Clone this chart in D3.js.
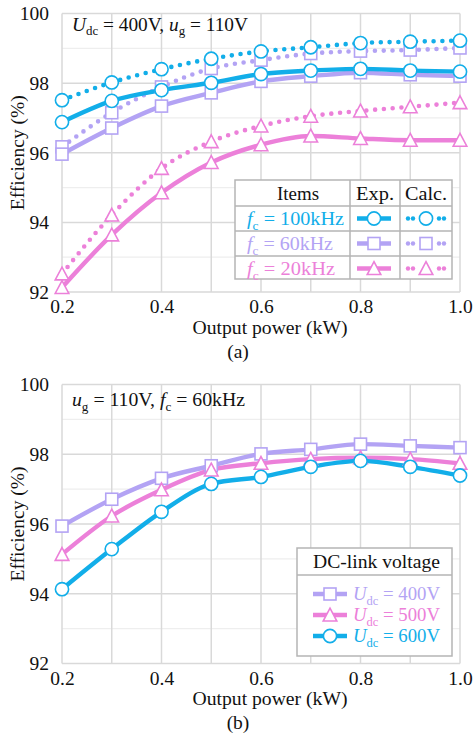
<!DOCTYPE html>
<html>
<head>
<meta charset="utf-8">
<script src="https://cdn.jsdelivr.net/npm/d3@7"></script>
<style>
  html, body { margin: 0; padding: 0; background: #fff; }
  svg, svg text { font-family: "Liberation Serif", "Tinos", "Times New Roman", "DejaVu Serif", serif; }
</style>
</head>
<body>
<svg id="chart" width="474" height="744"></svg>
<script>
// Output power (kW) on the x axis
const power = [0.2, 0.3, 0.4, 0.5, 0.6, 0.7, 0.8, 0.9, 1.0];
const xTicks = [0.2, 0.4, 0.6, 0.8, 1.0];
const yTicks = [92, 94, 96, 98, 100];
const yMinorTicks = [93, 95, 97, 99];

// (a) Udc = 400 V, ug = 110 V: measured (Exp.) and calculated (Calc.) efficiency
const expFc100  = [96.88, 97.49, 97.80, 98.01, 98.26, 98.36, 98.41, 98.36, 98.33];
const calcFc100 = [97.51, 98.02, 98.40, 98.70, 98.91, 99.03, 99.15, 99.19, 99.22];
const expFc60   = [95.96, 96.71, 97.34, 97.72, 98.05, 98.20, 98.30, 98.24, 98.20];
const calcFc60  = [96.17, 97.15, 97.89, 98.42, 98.66, 98.85, 98.92, 98.95, 99.01];
const expFc20   = [92.13, 93.64, 94.85, 95.72, 96.23, 96.48, 96.41, 96.36, 96.36];
const calcFc20  = [92.52, 94.21, 95.55, 96.32, 96.77, 97.05, 97.20, 97.32, 97.44];

// (b) ug = 110 V, fc = 60 kHz at three DC-link voltages
const udc400 = [95.94, 96.71, 97.31, 97.67, 98.01, 98.14, 98.29, 98.24, 98.19];
const udc500 = [95.13, 96.23, 96.98, 97.55, 97.74, 97.86, 97.90, 97.86, 97.74];
const udc600 = [94.13, 95.28, 96.35, 97.15, 97.35, 97.64, 97.81, 97.64, 97.39];

const BLUE = "#12aee9", LAV = "#b3a3f4", PINK = "#ec80d9";
const GRID = "#d9d9d9", GRID_MINOR = "#eeeeee", BORDER = "#b5b5b5";
const FONT = '"Liberation Serif", "Tinos", "Times New Roman", "DejaVu Serif", serif';
const FS = 19.5;

const svg = d3.select("#chart");

// marker shapes
function drawMarker(g, shape, cx, cy, color) {
  if (shape === "circle") {
    g.append("circle").attr("cx", cx).attr("cy", cy).attr("r", 6.6)
      .attr("fill", "#fff").attr("stroke", color).attr("stroke-width", 1.6);
  } else if (shape === "square") {
    g.append("rect").attr("x", cx - 6).attr("y", cy - 6).attr("width", 12).attr("height", 12)
      .attr("fill", "#fff").attr("stroke", color).attr("stroke-width", 1.6);
  } else {
    g.append("path").attr("d", `M${cx},${cy - 6.8}L${cx + 6.8},${cy + 6}L${cx - 6.8},${cy + 6}Z`)
      .attr("fill", "#fff").attr("stroke", color).attr("stroke-width", 1.6);
  }
}

// text made of runs: {t, i: italic, sub: subscript}, stretched to a given width
function richText(g, x, y, runs, color, len) {
  const t = g.append("text").attr("x", x).attr("y", y).attr("fill", color)
    .attr("font-family", FONT).attr("font-size", FS);
  if (len) t.attr("textLength", len).attr("lengthAdjust", "spacingAndGlyphs");
  let shifted = 0;
  runs.forEach(r => {
    const s = t.append("tspan").text(r.t);
    if (r.i) s.attr("font-style", "italic");
    if (r.sub) {
      s.attr("font-size", 13).attr("dy", 4.5 - shifted);
      shifted = 4.5;
    } else if (shifted) {
      s.attr("dy", -shifted);
      shifted = 0;
    }
  });
  return t;
}

function label(g, x, y, str, len) {
  const t = g.append("text").attr("x", x).attr("y", y).attr("text-anchor", "middle")
    .attr("font-family", FONT).attr("font-size", FS).attr("fill", "#111").text(str);
  if (len) t.attr("textLength", len).attr("lengthAdjust", "spacingAndGlyphs");
  return t;
}

function panel(top, bottom, series, note, noteY, noteLen, caption) {
  const x = d3.scaleLinear().domain([0.2, 1.0]).range([62, 460]);
  const y = d3.scaleLinear().domain([92, 100]).range([bottom, top]);
  const g = svg.append("g");

  // grid
  g.append("g").selectAll("line").data(yMinorTicks).join("line")
    .attr("x1", x(0.2)).attr("x2", x(1.0)).attr("y1", d => y(d)).attr("y2", d => y(d))
    .attr("stroke", GRID_MINOR).attr("stroke-width", 1.3);
  g.append("g").selectAll("line").data(power).join("line")
    .attr("x1", d => x(d)).attr("x2", d => x(d)).attr("y1", y(92)).attr("y2", y(100))
    .attr("stroke", GRID).attr("stroke-width", 1.5);
  g.append("g").selectAll("line").data(yTicks).join("line")
    .attr("x1", x(0.2)).attr("x2", x(1.0)).attr("y1", d => y(d)).attr("y2", d => y(d))
    .attr("stroke", GRID).attr("stroke-width", 1.5);

  // axes (labels only)
  const xa = g.append("g").attr("transform", `translate(0,${bottom})`)
    .call(d3.axisBottom(x).tickValues(xTicks).tickFormat(d3.format(".1f")).tickSize(0).tickPadding(7.5));
  const ya = g.append("g").attr("transform", `translate(62,0)`)
    .call(d3.axisLeft(y).tickValues(yTicks).tickFormat(d3.format("d")).tickSize(0).tickPadding(13));
  [xa, ya].forEach(a => {
    a.attr("font-family", FONT).attr("font-size", FS);
    a.select(".domain").remove();
    a.selectAll("text").attr("font-family", FONT).attr("font-size", FS).attr("fill", "#111");
  });

  label(g, 270, bottom + 41.5, "Output power (kW)", 155);
  g.append("text").attr("transform", `translate(24,${(top + bottom) / 2}) rotate(-90)`)
    .attr("text-anchor", "middle").attr("font-family", FONT).attr("font-size", FS)
    .attr("fill", "#111").text("Efficiency (%)");
  label(g, 238, bottom + 65.5, caption);

  // lines then markers
  const line = d3.line().x((d, i) => x(power[i])).y(d => y(d)).curve(d3.curveMonotoneX);
  series.forEach(s => {
    g.append("path").attr("d", line(s.values)).attr("fill", "none").attr("stroke", s.color)
      .attr("stroke-width", s.dotted ? 4.6 : 4.4)
      .attr("stroke-linecap", "round")
      .attr("stroke-dasharray", s.dotted ? "0 8.8" : null);
  });
  series.forEach(s => {
    const mg = g.append("g");
    s.values.forEach((v, i) => drawMarker(mg, s.shape, x(power[i]), y(v), s.color));
  });

  richText(g, 72, top + noteY, note, "#111", noteLen);
  return g;
}

// (a)
const ga = panel(13.5, 292, [
  { values: calcFc60, color: LAV, shape: "square", dotted: true },
  { values: expFc60, color: LAV, shape: "square" },
  { values: calcFc20, color: PINK, shape: "triangle", dotted: true },
  { values: expFc20, color: PINK, shape: "triangle" },
  { values: calcFc100, color: BLUE, shape: "circle", dotted: true },
  { values: expFc100, color: BLUE, shape: "circle" }
], [{ t: "U", i: true }, { t: "dc", sub: true }, { t: " = 400V, " }, { t: "u", i: true }, { t: "g", sub: true }, { t: " = 110V" }],
  17, 176, "(a)");

// legend table for (a)
const legRows = [
  { label: "100kHz", color: BLUE, shape: "circle", len: 97 },
  { label: "60kHz", color: LAV, shape: "square", len: 86 },
  { label: "20kHz", color: PINK, shape: "triangle", len: 88 }
];
const tbl = ga.append("g");
tbl.append("rect").attr("x", 235).attr("y", 180).attr("width", 217).attr("height", 99)
  .attr("fill", "#fff").attr("stroke", BORDER).attr("stroke-width", 1.5);
[350, 400].forEach(cx => tbl.append("line").attr("x1", cx).attr("x2", cx).attr("y1", 180).attr("y2", 279)
  .attr("stroke", BORDER).attr("stroke-width", 1.5));
[206, 231, 256].forEach(ry => tbl.append("line").attr("x1", 235).attr("x2", 452).attr("y1", ry).attr("y2", ry)
  .attr("stroke", BORDER).attr("stroke-width", 1.5));
[["Items", 298, 42], ["Exp.", 375, 38], ["Calc.", 426, 42]].forEach(([t, cx, w]) => label(tbl, cx, 199.5, t, w));
legRows.forEach((r, i) => {
  const cy = 218.5 + i * 25;
  richText(tbl, 247, cy + 6.5, [{ t: "f", i: true }, { t: "c", sub: true }, { t: " = " + r.label }], r.color, r.len);
  tbl.append("line").attr("x1", 357).attr("x2", 391).attr("y1", cy).attr("y2", cy)
    .attr("stroke", r.color).attr("stroke-width", 4.4);
  drawMarker(tbl, r.shape, 374, cy, r.color);
  [408, 413, 439, 444].forEach(dx => tbl.append("circle").attr("cx", dx).attr("cy", cy).attr("r", 2.2).attr("fill", r.color));
  drawMarker(tbl, r.shape, 426, cy, r.color);
});

// (b)
const gb = panel(384.5, 663.5, [
  { values: udc400, color: LAV, shape: "square" },
  { values: udc500, color: PINK, shape: "triangle" },
  { values: udc600, color: BLUE, shape: "circle" }
], [{ t: "u", i: true }, { t: "g", sub: true }, { t: " = 110V, " }, { t: "f", i: true }, { t: "c", sub: true }, { t: " = 60kHz" }],
  21.5, 173, "(b)");

// legend for (b)
const leg = gb.append("g");
leg.append("rect").attr("x", 297).attr("y", 548).attr("width", 155).attr("height", 108)
  .attr("fill", "#fff").attr("stroke", BORDER).attr("stroke-width", 1.5);
leg.append("line").attr("x1", 297).attr("x2", 452).attr("y1", 575).attr("y2", 575)
  .attr("stroke", BORDER).attr("stroke-width", 1.5);
label(leg, 376.5, 568, "DC-link voltage", 127);
[
  { v: "400V", color: LAV, shape: "square" },
  { v: "500V", color: PINK, shape: "triangle" },
  { v: "600V", color: BLUE, shape: "circle" }
].forEach((r, i) => {
  const cy = 594 + i * 21;
  leg.append("line").attr("x1", 313).attr("x2", 347).attr("y1", cy).attr("y2", cy)
    .attr("stroke", r.color).attr("stroke-width", 4.4);
  drawMarker(leg, r.shape, 330, cy, r.color);
  richText(leg, 353, cy + 6, [{ t: "U", i: true }, { t: "dc", sub: true }, { t: " = " + r.v }], r.color, 87);
});
</script>
</body>
</html>
